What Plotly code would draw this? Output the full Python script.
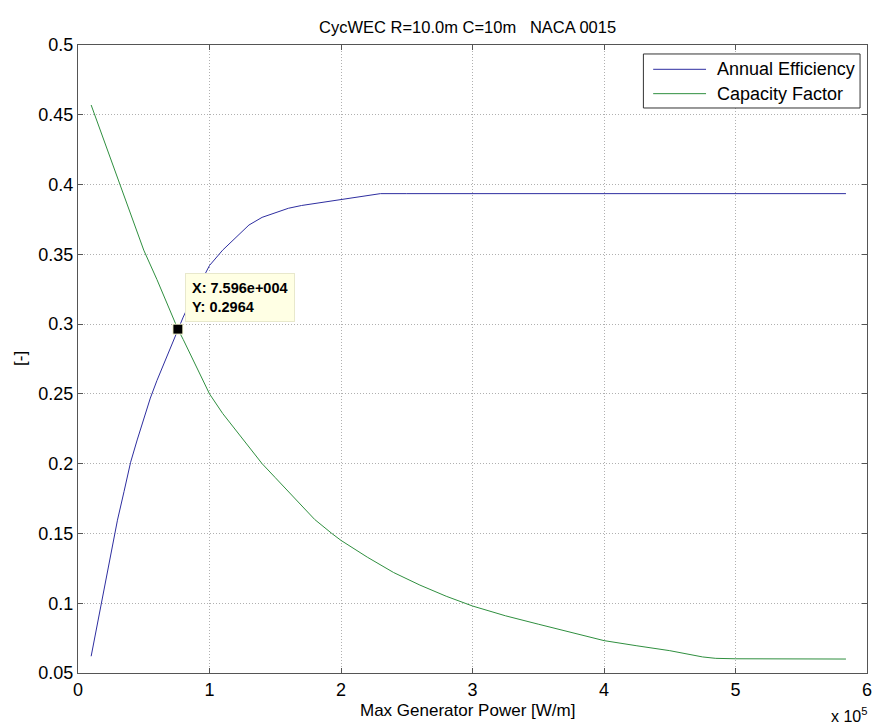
import plotly.graph_objects as go

# ---- data (x in W/m) ----
eff_x = [10000, 15000, 20000, 25000, 30000, 35000, 40000, 45000, 50000, 55000,
         60000, 65000, 70000, 75960, 80000, 85000, 90000, 95000, 100000, 110000,
         120000, 130000, 140000, 150000, 160000, 170000, 180000, 190000, 200000,
         210000, 220000, 230000, 250000, 300000, 350000, 400000, 450000, 500000,
         550000, 584000]
eff_y = [0.062, 0.087, 0.112, 0.136, 0.1595, 0.180, 0.201, 0.217, 0.232, 0.247,
         0.2595, 0.271, 0.283, 0.2964, 0.305, 0.315, 0.324, 0.334, 0.342, 0.353,
         0.362, 0.371, 0.3765, 0.380, 0.383, 0.385, 0.3865, 0.388, 0.389,
         0.3905, 0.392, 0.3935, 0.3935, 0.3935, 0.3935, 0.3935, 0.3935, 0.3935,
         0.3935, 0.3935]

cf_x = [10000, 20000, 30000, 40000, 50000, 60000, 70000, 75960, 80000, 90000,
        100000, 110000, 120000, 130000, 140000, 150000, 160000, 170000, 180000,
        193000, 200000, 220000, 240000, 260000, 280000, 300000, 325000, 350000,
        375000, 400000, 425000, 450000, 475000, 485000, 500000, 584000]
cf_y = [0.457, 0.431, 0.404, 0.379, 0.353, 0.332, 0.310, 0.2964, 0.289, 0.270,
        0.250, 0.236, 0.224, 0.212, 0.200, 0.190, 0.180, 0.170, 0.160,
        0.150, 0.145, 0.133, 0.122, 0.113, 0.105, 0.098, 0.091, 0.085,
        0.079, 0.0732, 0.0695, 0.066, 0.0615, 0.0605, 0.0602, 0.060]

tip_x = 75960
tip_y = 0.2964

x_ticks = [0, 100000, 200000, 300000, 400000, 500000, 600000]
x_ticktext = ["0", "1", "2", "3", "4", "5", "6"]
y_ticks = [0.05, 0.1, 0.15, 0.2, 0.25, 0.3, 0.35, 0.4, 0.45, 0.5]
y_ticktext = ["0.05", "0.1", "0.15", "0.2", "0.25", "0.3", "0.35", "0.4", "0.45", "0.5"]

title_text = "CycWEC R=10.0m C=10m   NACA 0015"
names = ["Annual Efficiency", "Capacity Factor"]
blue = "#2e2ea0"
green = "#2f8f3f"

FONT = "Liberation Sans, Arial, sans-serif"

fig = go.Figure()
fig.add_trace(go.Scatter(x=eff_x, y=eff_y, mode="lines", name=names[0],
                         line=dict(color=blue, width=1), showlegend=False))
fig.add_trace(go.Scatter(x=cf_x, y=cf_y, mode="lines", name=names[1],
                         line=dict(color=green, width=1), showlegend=False))
fig.add_trace(go.Scatter(x=[tip_x], y=[tip_y], mode="markers",
                         marker=dict(symbol="square", size=10, color="black",
                                     line=dict(color="#ffffd8", width=1)),
                         showlegend=False, hoverinfo="skip"))

axis_common = dict(showline=True, linecolor="#555555", linewidth=1, mirror="ticks",
                   ticks="inside", ticklen=5, tickcolor="#555555",
                   showgrid=True, gridcolor="#b0b0b0", griddash="1px,2px", gridwidth=1,
                   zeroline=False, ticklabeloverflow="allow",
                   tickfont=dict(family=FONT, size=18, color="black"))

fig.update_layout(
    width=876, height=727,
    margin=dict(l=78, r=4, t=45, b=54),
    paper_bgcolor="white", plot_bgcolor="white",
    font=dict(family=FONT, color="black"),
    xaxis=dict(range=[0, 600000], tickvals=x_ticks, ticktext=x_ticktext, **axis_common),
    yaxis=dict(range=[0.05, 0.5], tickvals=y_ticks, ticktext=y_ticktext, **axis_common),
)

# title
fig.add_annotation(text=title_text, xref="paper", yref="paper", x=0.494, y=1,
                   yanchor="middle", yshift=18, showarrow=False,
                   font=dict(family=FONT, size=16.5, color="black"))
# x label
fig.add_annotation(text="Max Generator Power [W/m]", xref="paper", yref="paper",
                   x=0.494, y=0, yanchor="middle", yshift=-37, showarrow=False,
                   font=dict(family=FONT, size=17, color="black"))
# x multiplier
fig.add_annotation(text="x 10<sup>5</sup>", xref="paper", yref="paper",
                   x=1.0, y=0, xanchor="right", yanchor="middle", yshift=-42, xshift=2,
                   showarrow=False, font=dict(family=FONT, size=16, color="black"))
# y label
fig.add_annotation(text="[-]", xref="paper", yref="paper", x=0, y=0.5,
                   xanchor="center", yanchor="middle", xshift=-58, textangle=-90,
                   showarrow=False, font=dict(family=FONT, size=17, color="black"))

# legend box (drawn)
lx0, lx1, ly0, ly1 = 0.7166, 0.9912, 0.8997, 0.9857
fig.add_shape(type="rect", xref="paper", yref="paper", x0=lx0, x1=lx1, y0=ly0, y1=ly1,
              line=dict(color="#333333", width=1), fillcolor="white", layer="above")
for i, (nm, col, yy) in enumerate([(names[0], blue, 0.9613), (names[1], green, 0.9225)]):
    fig.add_shape(type="line", xref="paper", yref="paper", x0=0.729, x1=0.796,
                  y0=yy, y1=yy, line=dict(color=col, width=1), layer="above")
    fig.add_annotation(text=nm, xref="paper", yref="paper", x=0.807, y=yy,
                       xanchor="left", yanchor="middle", showarrow=False,
                       font=dict(family=FONT, size=18, color="black"))

# data tip
fig.add_annotation(text="<b>X: 7.596e+004</b><br><b>Y: 0.2964</b>", x=tip_x, y=tip_y,
                   xref="x", yref="y", xanchor="left", yanchor="bottom",
                   xshift=7, yshift=7, showarrow=False, align="left",
                   bgcolor="#ffffe4", bordercolor="#e8e8cc", borderwidth=1, borderpad=6,
                   font=dict(family=FONT, size=14.5, color="black"))

fig.write_html("out.html")
